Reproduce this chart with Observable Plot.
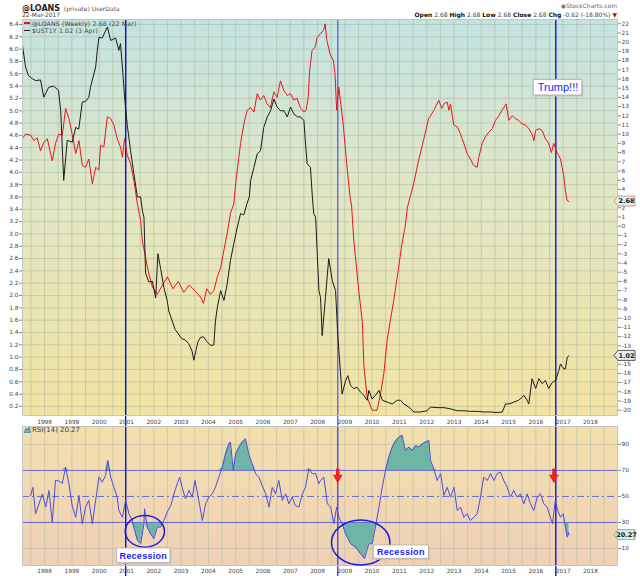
<!DOCTYPE html>
<html>
<head>
<meta charset="utf-8">
<script src="https://cdn.jsdelivr.net/npm/d3@7"></script>
<script src="https://cdn.jsdelivr.net/npm/@observablehq/plot@0.6"></script>
<style>
  body { margin: 0; background: #fff; font-family: "DejaVu Sans", Verdana, sans-serif; }
  #wrap { position: relative; width: 640px; height: 576px; overflow: hidden; }
  .abs { position: absolute; white-space: nowrap; }
  .lg { font-size: 6.2px; line-height: 7px; color: #444; letter-spacing: 0.15px; }
</style>
</head>
<body>
<div id="wrap">
  <div id="main" class="abs" style="left:0;top:0"></div>
  <div id="rsi" class="abs" style="left:0;top:426px"></div>

  <div class="abs" style="left:22px;top:0.5px;line-height:9px;height:9px"><span style="font-size:8px;font-weight:bold;color:#222">@LOANS</span><span style="font-size:6px;color:#555">&nbsp;&nbsp;(private)&nbsp;UserData</span></div>
  <div class="abs" style="left:22px;top:12px;font-size:6px;color:#444;line-height:6px">22-Mar-2017</div>
  <div class="abs" style="right:23px;top:2px;font-size:6px;color:#666;line-height:7px">◉StockCharts.com</div>
  <div class="abs" style="right:23px;top:11px;font-size:6px;color:#444;line-height:7px">
    <b style="color:#111">Open</b> 2.68 <b style="color:#111">High</b> 2.68 <b style="color:#111">Low</b> 2.68
    <b style="color:#111">Close</b> 2.68 <b style="color:#111">Chg</b> -0.62 (-18.80%) <span style="color:#c00">▼</span>
  </div>

  <div class="abs" style="left:24px;top:22.3px;width:6px;height:1.5px;background:#e8141e"></div>
  <div class="abs lg" style="left:32px;top:19.5px">@LOANS (Weekly) 2.68 (22 Mar)</div>
  <div class="abs" style="left:24px;top:29.8px;width:6px;height:1.5px;background:#222"></div>
  <div class="abs lg" style="left:32px;top:27px">$UST1Y 1.02 (3 Apr)</div>

  <svg class="abs" style="left:24px;top:427px" width="7" height="6"><path d="M0,6 L2,1 L3.5,3 L5,0 L7,6 Z" fill="#6fb5a5" stroke="#3a6a9a" stroke-width="0.6"/></svg>
  <div class="abs lg" style="left:32px;top:426.5px;font-size:7px;letter-spacing:0">RSI(14) 20.27</div>
</div>
<script>
// $UST1Y (left axis, %)
const ustT = [1997.19,1997.30,1997.41,1997.55,1997.67,1997.85,1997.97,1998.15,1998.33,1998.51,1998.59,1998.70,1998.83,1999.01,1999.14,1999.25,1999.38,1999.50,1999.62,1999.68,1999.87,1999.93,1999.99,2000.11,2000.30,2000.42,2000.60,2000.72,2000.78,2000.85,2000.93,2001.03,2001.15,2001.27,2001.40,2001.52,2001.58,2001.64,2001.70,2001.82,2001.95,2002.07,2002.15,2002.25,2002.37,2002.49,2002.55,2002.65,2002.78,2002.90,2003.02,2003.15,2003.28,2003.40,2003.47,2003.55,2003.62,2003.71,2003.82,2003.95,2004.08,2004.20,2004.26,2004.33,2004.45,2004.57,2004.69,2004.81,2004.93,2005.06,2005.18,2005.30,2005.42,2005.50,2005.55,2005.67,2005.79,2005.91,2006.03,2006.16,2006.28,2006.40,2006.52,2006.64,2006.77,2006.89,2007.01,2007.13,2007.26,2007.38,2007.50,2007.56,2007.62,2007.74,2007.81,2007.86,2007.93,2008.05,2008.11,2008.17,2008.29,2008.41,2008.54,2008.66,2008.74,2008.78,2008.90,2009.03,2009.11,2009.21,2009.33,2009.45,2009.58,2009.70,2009.82,2009.88,2010.00,2010.12,2010.25,2010.37,2010.55,2010.74,2010.92,2011.04,2011.16,2011.34,2011.53,2011.77,2012.02,2012.14,2012.38,2012.63,2012.87,2013.12,2013.36,2013.60,2013.85,2014.09,2014.34,2014.58,2014.77,2014.89,2015.01,2015.19,2015.37,2015.50,2015.56,2015.68,2015.74,2015.86,2015.99,2016.11,2016.23,2016.35,2016.47,2016.60,2016.72,2016.84,2016.90,2017.02,2017.08,2017.15,2017.21]
const ustV = [6.06,5.71,5.57,5.52,5.49,5.50,5.22,5.38,5.40,5.33,5.00,3.87,4.52,4.49,4.73,4.70,5.14,5.15,5.22,5.38,5.71,5.98,6.19,6.18,6.36,6.14,6.18,5.98,6.09,5.71,5.22,4.76,4.35,3.98,3.60,3.60,3.38,3.27,2.36,2.22,2.23,1.96,2.68,2.44,2.13,1.92,1.75,1.62,1.45,1.38,1.30,1.28,1.22,1.10,0.95,1.12,1.25,1.32,1.33,1.25,1.19,1.20,1.59,1.81,2.08,1.92,2.19,2.57,2.84,3.11,3.33,3.31,3.50,3.60,3.87,4.08,4.30,4.35,4.73,4.90,5.00,5.19,5.06,5.00,5.00,4.90,5.06,4.95,4.90,4.90,4.84,4.46,4.14,4.08,3.60,3.33,3.27,2.08,1.97,1.35,1.97,2.60,2.24,2.08,1.37,1.11,0.40,0.62,0.70,0.54,0.49,0.51,0.43,0.38,0.30,0.46,0.32,0.38,0.46,0.30,0.27,0.24,0.30,0.30,0.24,0.19,0.11,0.11,0.13,0.19,0.18,0.18,0.16,0.13,0.13,0.12,0.12,0.11,0.11,0.10,0.11,0.24,0.24,0.27,0.30,0.35,0.38,0.30,0.24,0.65,0.49,0.65,0.57,0.62,0.49,0.59,0.62,0.78,0.89,0.81,0.81,1.00,1.02]

// @LOANS (right axis)
const loansT = [1997.18,1997.30,1997.49,1997.61,1997.73,1997.85,1997.97,1998.10,1998.28,1998.40,1998.52,1998.65,1998.77,1998.89,1999.01,1999.14,1999.26,1999.38,1999.50,1999.62,1999.75,1999.87,1999.99,2000.05,2000.17,2000.30,2000.42,2000.54,2000.66,2000.78,2000.85,2000.93,2001.03,2001.15,2001.27,2001.40,2001.52,2001.58,2001.70,2001.82,2001.95,2002.13,2002.30,2002.50,2002.70,2002.90,2003.10,2003.30,2003.50,2003.71,2003.82,2003.94,2004.08,2004.20,2004.33,2004.45,2004.57,2004.69,2004.81,2004.93,2005.00,2005.06,2005.18,2005.30,2005.42,2005.54,2005.67,2005.79,2005.91,2006.03,2006.15,2006.27,2006.40,2006.52,2006.64,2006.76,2006.89,2007.01,2007.13,2007.25,2007.37,2007.50,2007.58,2007.66,2007.71,2007.80,2007.92,2007.98,2008.10,2008.22,2008.28,2008.34,2008.46,2008.58,2008.64,2008.70,2008.78,2008.94,2009.06,2009.19,2009.25,2009.33,2009.51,2009.64,2009.70,2009.82,2010.00,2010.18,2010.31,2010.43,2010.55,2010.67,2010.79,2010.97,2011.09,2011.21,2011.29,2011.52,2011.70,2011.88,2012.07,2012.14,2012.26,2012.38,2012.44,2012.55,2012.63,2012.75,2012.81,2012.87,2012.99,2013.12,2013.24,2013.36,2013.48,2013.60,2013.72,2013.85,2013.91,2014.03,2014.15,2014.27,2014.40,2014.52,2014.64,2014.76,2014.91,2015.01,2015.13,2015.25,2015.37,2015.50,2015.62,2015.74,2015.86,2015.93,2015.99,2016.11,2016.23,2016.35,2016.47,2016.57,2016.65,2016.78,2016.90,2016.96,2017.02,2017.08,2017.14,2017.21]
const loansV = [9.5,10.0,9.9,9.3,9.6,8.2,9.1,9.5,7.1,9.0,10.0,9.9,12.8,11.7,10.0,7.9,9.3,6.6,6.4,7.3,4.6,6.4,6.1,8.8,8.6,11.9,11.7,11.0,9.5,8.6,7.5,9.5,7.7,6.8,5.0,2.4,0.6,-1.6,-3.4,-5.2,-6.6,-7.4,-6.5,-5.5,-6.8,-6.0,-7.2,-6.4,-7.0,-7.7,-8.4,-6.8,-7.4,-7.0,-5.5,-4.5,-2.6,-0.8,1.4,2.4,4.6,6.1,9.0,11.1,12.6,12.9,12.4,14.4,13.7,14.2,13.3,12.9,14.6,14.0,15.8,14.8,14.2,14.4,13.7,13.9,12.9,12.4,12.6,14.0,16.9,19.1,19.5,20.5,20.9,21.3,22.0,20.2,18.7,18.0,16.6,12.6,15.1,11.1,7.1,3.2,2.1,-1.6,-7.0,-10.4,-15.3,-18.6,-20.0,-20.0,-18.2,-16.0,-12.4,-10.2,-8.1,-4.5,-1.9,-0.1,2.0,4.6,7.1,9.3,11.7,12.0,12.6,13.3,13.7,12.8,13.3,13.5,12.6,13.3,11.0,10.8,10.0,9.0,7.9,7.3,6.6,6.4,7.5,9.0,9.7,10.2,10.6,11.5,12.0,12.6,13.3,11.5,12.0,11.7,11.5,11.1,11.0,10.6,10.0,9.3,10.4,10.6,10.4,9.5,9.0,8.0,9.0,8.0,7.3,6.4,5.5,3.9,2.8,2.68]

// RSI(14) of @LOANS
const rsiT = [1997.49,1997.57,1997.67,1997.79,1997.92,1998.04,1998.16,1998.28,1998.40,1998.52,1998.65,1998.77,1998.89,1999.01,1999.14,1999.26,1999.38,1999.50,1999.62,1999.75,1999.87,1999.99,2000.11,2000.23,2000.32,2000.42,2000.54,2000.66,2000.72,2000.85,2000.97,2001.09,2001.21,2001.27,2001.40,2001.52,2001.64,2001.66,2001.76,2001.88,2002.00,2002.13,2002.25,2002.37,2002.49,2002.62,2002.74,2002.86,2002.95,2003.04,2003.16,2003.29,2003.41,2003.51,2003.65,2003.78,2003.90,2004.02,2004.14,2004.26,2004.38,2004.51,2004.63,2004.75,2004.81,2004.91,2005.00,2005.12,2005.24,2005.36,2005.48,2005.61,2005.73,2005.85,2005.97,2006.10,2006.22,2006.34,2006.46,2006.58,2006.71,2006.83,2006.95,2007.07,2007.19,2007.32,2007.44,2007.56,2007.68,2007.81,2007.93,2008.05,2008.11,2008.23,2008.36,2008.48,2008.60,2008.70,2008.78,2008.90,2009.03,2009.21,2009.39,2009.58,2009.72,2009.88,2010.00,2010.12,2010.25,2010.37,2010.49,2010.61,2010.74,2010.86,2010.98,2011.10,2011.22,2011.35,2011.47,2011.59,2011.71,2011.84,2011.96,2012.08,2012.14,2012.26,2012.38,2012.51,2012.63,2012.75,2012.87,2013.00,2013.12,2013.24,2013.36,2013.48,2013.60,2013.73,2013.85,2013.97,2014.09,2014.22,2014.34,2014.46,2014.58,2014.70,2014.82,2014.95,2015.07,2015.19,2015.31,2015.43,2015.56,2015.68,2015.80,2015.92,2016.05,2016.17,2016.29,2016.41,2016.53,2016.61,2016.71,2016.80,2016.90,2017.00,2017.06,2017.15,2017.19,2017.21]
const rsiV = [50.8,57,36.7,44,52,41.8,54.6,30.2,62.3,62,60,72.5,59.8,43,34,50.8,29,41.8,47,29,47,64.8,61,66,77.7,64.8,57,49.5,39.2,34,47,36.7,31.5,26.4,16.2,13.6,29,40.5,26.4,21.3,17.5,26.4,26.4,31.5,38,43,52,59.8,64.8,57,48.2,54.6,49.5,62.3,47,31.5,44.4,49.5,52,57,64.8,72.5,82.8,90.5,91.8,70,82.8,88,91.8,94.4,82.8,75,67.5,64.8,58.5,52,41.8,57,52,62.3,47,52,44.4,49.5,43,41.8,52,57,71.3,67.5,67.5,59.8,62.3,64.8,44.4,41.8,29,41.8,34,29,21.3,13.6,11,5.9,2.1,13.6,13.6,26.4,41.8,57,70,80.2,88,93,95.6,97,85.4,88,85.4,89.2,88,90.5,91.8,93,77.7,71.3,62.3,67.5,50.8,57,49.5,57,39.2,41.8,34,36.7,31.5,34,36.7,49.5,64.8,62.3,67.5,62.3,67.5,68.7,62.3,57,49.5,54.6,49.5,52,44.4,52,44.4,39.2,49.5,52,44.4,41.8,34,29,47,39.2,34,36.7,29,18.7,22.5,20.27]

const yearTicks = d3.range(1998, 2019)
const leftTicks = d3.range(1, 33).map(i => i / 5)
const rightTicks = d3.range(-20, 23)
const hiddenRight = [3, -14]                 // labels sitting under the value tags
const rsiTicks = [10, 30, 50, 70, 90]
const eventT = [2000.97, 2008.74, 2016.73]   // vertical markers
const arrowT = [2008.74, 2016.66]            // red arrows in RSI panel

const ust = ustT.map((t, i) => ({t, v: ustV[i]}))
const loans = loansT.map((t, i) => ({t, v: loansV[i]}))
const rsi = rsiT.map((t, i) => ({t, v: rsiV[i]}))

// right axis (LOANS) expressed in left-axis units
const toL = r => 6.4114 - (22 - r) * 0.14935

const xDomain = [1997.19, 2018.99]
const halfYears = d3.range(1997.5, 2019, 0.5)
const gridCol = "#a7b39c"
const font = "DejaVu Sans, Verdana, sans-serif"
const boxFont = "Liberation Sans, Arial, sans-serif"
const fs = 5.8

const main = Plot.plot({
  width: 640, height: 426,
  marginLeft: 22, marginRight: 23, marginTop: 19, marginBottom: 11,
  style: {fontFamily: font, fontSize: fs + "px", background: "transparent", color: "#333"},
  x: {domain: xDomain, label: null},
  y: {domain: [0.0526, 6.481], label: null},
  marks: [
    Plot.frame({fill: "url(#gMain)", stroke: null}),
    Plot.gridX(halfYears, {stroke: gridCol, strokeOpacity: 0.5}),
    Plot.gridY(leftTicks, {stroke: gridCol, strokeOpacity: 0.5}),
    Plot.ruleX([eventT[0], eventT[2]], {y1: -0.13, y2: 6.481, stroke: "#1414c8", strokeWidth: 1.4}),
    Plot.ruleX([eventT[1]], {y1: -0.13, y2: 6.481, stroke: "#6464f0", strokeWidth: 1.4}),
    Plot.line(loans, {x: "t", y: d => toL(d.v), stroke: "#e8141e", strokeWidth: 1}),
    Plot.line(ust, {x: "t", y: "v", stroke: "#1a1a1a", strokeWidth: 1}),
    Plot.axisY(leftTicks, {anchor: "left", tickSize: 3, tickPadding: 1, tickFormat: d3.format(".1f"), fontSize: fs, stroke: "#888", fill: "#444", label: null}),
    Plot.axisY(rightTicks.filter(d => !hiddenRight.includes(d)), {anchor: "right", y: toL, text: d => String(d), tickSize: 3, tickPadding: 1, fontSize: fs, stroke: "#888", fill: "#444", label: null}),
    Plot.axisX(yearTicks, {anchor: "bottom", tickSize: 0, tickPadding: 4, tickFormat: d => String(d), fontSize: fs, fill: "#444", label: null}),
    Plot.frame({stroke: "#c4c4c4"}),
    Plot.rect([0], {x1: 2015.92, x2: 2017.70, y1: 5.247, y2: 5.502, fill: "#c4c4c4", dx: 1.5, dy: 1.5}),
    Plot.rect([0], {x1: 2015.92, x2: 2017.70, y1: 5.247, y2: 5.502, fill: "white", stroke: "#b0b0b0"}),
    Plot.text(["Trump!!!"], {x: 2016.81, y: 5.374, text: d => d, fill: "#1c1cff", fontSize: 11, fontFamily: boxFont})
  ]
})

const rsiPlot = Plot.plot({
  width: 640, height: 150,
  marginLeft: 22, marginRight: 23, marginTop: 0, marginBottom: 11,
  style: {fontFamily: font, fontSize: fs + "px", background: "transparent", color: "#333"},
  x: {domain: xDomain, label: null},
  y: {domain: [-3.1, 103.8], label: null},
  marks: [
    Plot.frame({fill: "url(#gRsi)", stroke: null}),
    Plot.gridX(halfYears, {stroke: gridCol, strokeOpacity: 0.45}),
    Plot.gridY([10, 90], {stroke: gridCol, strokeOpacity: 0.45}),
    Plot.areaY(rsi, {x: "t", y1: 70, y2: d => Math.max(70, d.v), fill: "#6fb5a5"}),
    Plot.areaY(rsi, {x: "t", y1: 30, y2: d => Math.min(30, d.v), fill: "#6fb5a5"}),
    Plot.ruleY([30, 70], {stroke: "#6a6ad6", strokeWidth: 1}),
    Plot.ruleY([50], {stroke: "#6a6ad6", strokeWidth: 1, strokeDasharray: "7,3,2,3"}),
    Plot.ruleX([eventT[0], eventT[2]], {y1: -11.6, y2: 103.8, stroke: "#1414c8", strokeWidth: 1.4}),
    Plot.ruleX([eventT[1]], {y1: -11.6, y2: 103.8, stroke: "#4848e8", strokeWidth: 1.4}),
    Plot.line(rsi, {x: "t", y: "v", stroke: "#4c4cd9", strokeWidth: 1}),
    Plot.ruleX(arrowT, {y1: 71, y2: 65.5, stroke: "#f02020", strokeWidth: 3.5}),
    Plot.dot(arrowT, {x: d => d, y: 64.5, symbol: "triangle", rotate: 180, r: 3.6, fill: "#f02020"}),
    Plot.axisY(rsiTicks, {anchor: "right", tickSize: 3, tickPadding: 1, fontSize: fs, stroke: "#888", fill: "#444", label: null}),
    Plot.axisX(yearTicks, {anchor: "bottom", tickSize: 0, tickPadding: 3, tickFormat: d => String(d), fontSize: fs, fill: "#444", label: null}),
    Plot.frame({stroke: "#c4c4c4"})
  ]
})

function addGrad(svg, id, stops) {
  const g = d3.select(svg).insert("defs", ":first-child")
    .append("linearGradient").attr("id", id)
    .attr("x1", 0).attr("y1", 0).attr("x2", 0).attr("y2", 1)
  stops.forEach(([o, c]) => g.append("stop").attr("offset", o).attr("stop-color", c))
}
addGrad(main, "gMain", [[0, "#c3e3e2"], [0.45, "#e1e7c4"], [1, "#f2e3a2"]])
addGrad(rsiPlot, "gRsi", [[0, "#f2dfad"], [1, "#efd1b6"]])

// value tags at the right edge
function tag(svg, xs, ys, v, label, fill, stroke) {
  const x0 = xs.apply(xDomain[1]), y = ys.apply(v)
  const g = d3.select(svg).append("g")
  g.append("path").attr("d", `M${x0 - 3},${y} L${x0 + 1},${y - 5} H${x0 + 18} V${y + 5} H${x0 + 1} Z`)
    .attr("fill", fill).attr("stroke", stroke).attr("stroke-width", 0.8)
  g.append("text").attr("x", x0 + 9.5).attr("y", y).attr("dy", "0.35em")
    .attr("text-anchor", "middle").attr("font-size", 6.5).attr("font-family", font)
    .attr("font-weight", "bold").attr("fill", "#222").text(label)
}
const mx = main.scale("x"), my = main.scale("y")
const rx = rsiPlot.scale("x"), ry = rsiPlot.scale("y")
tag(main, mx, my, toL(2.68), "2.68", "#dcf0f4", "#e07a7a")
tag(main, mx, my, 1.02, "1.02", "#e2eef0", "#333")
tag(rsiPlot, rx, ry, 20.27, "20.27", "#d6efea", "#5aa898")

// recession annotations in RSI panel
const recCenterT = [2001.69, 2009.60]
const recCenterV = [22.8, 14.2]
const recRadT = [0.72, 1.07]
const recRadV = [12.2, 17.3]
const boxT = [[2000.66, 2002.61], [2010.06, 2012.08]]
const boxV = [[-1.3, 10.0], [2.1, 12.3]]
const sel = d3.select(rsiPlot)
recCenterT.forEach((t, i) => {
  const cx = rx.apply(t), cy = ry.apply(recCenterV[i])
  sel.append("ellipse").attr("cx", cx).attr("cy", cy)
    .attr("rx", rx.apply(t + recRadT[i]) - cx).attr("ry", cy - ry.apply(recCenterV[i] + recRadV[i]))
    .attr("fill", "none").attr("stroke", "#1a1ae6").attr("stroke-width", 1.5)
})
boxT.forEach((b, i) => {
  const x1 = rx.apply(b[0]), x2 = rx.apply(b[1])
  const y1 = ry.apply(boxV[i][1]), y2 = ry.apply(boxV[i][0])
  sel.append("rect").attr("x", x1 + 1.5).attr("y", y1 + 1.5).attr("width", x2 - x1).attr("height", y2 - y1).attr("fill", "#c0c0c0")
  sel.append("rect").attr("x", x1).attr("y", y1).attr("width", x2 - x1).attr("height", y2 - y1)
    .attr("fill", "white").attr("stroke", "#b0b0b0").attr("stroke-width", 0.8)
  sel.append("text").attr("x", (x1 + x2) / 2).attr("y", (y1 + y2) / 2).attr("dy", "0.36em")
    .attr("text-anchor", "middle").attr("font-family", boxFont).attr("font-size", 9)
    .attr("font-weight", "bold").attr("letter-spacing", 0.3).attr("fill", "#1c1cff").text("Recession")
})

document.getElementById("main").append(main)
document.getElementById("rsi").append(rsiPlot)
</script>
</body>
</html>
